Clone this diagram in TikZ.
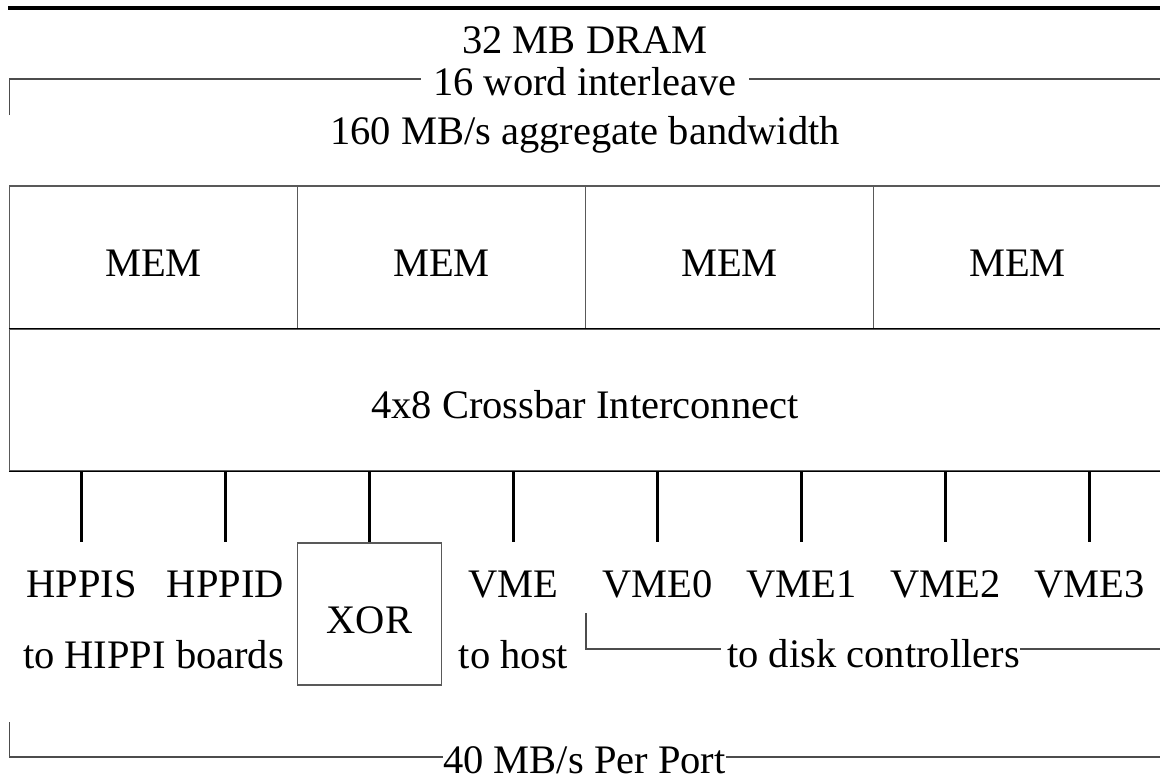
\documentclass[tikz,border=0pt]{standalone}
\usepackage{fontspec}
\setmainfont{Liberation Serif}
\usetikzlibrary{calc}
\begin{document}
\begin{tikzpicture}[x=1pt,y=-1pt,
  every node/.style={font=\fontsize{40.5}{48}\selectfont, inner sep=0pt},
  txt/.style={anchor=base},
  cell/.style={draw=black!65, line width=1.1pt, minimum width=288pt,
               minimum height=143pt, inner sep=0pt},
  heavy/.style={draw=black, line width=1.6pt},
  stub/.style={draw=black, line width=2.4pt},
  brk/.style={draw=black!70, line width=1.1pt},
  rule/.style={draw=black, line width=4pt}]
\useasboundingbox (0,0) rectangle (1160,777);

% heading rule
\coordinate (r0) at (8,7.5);
\coordinate (r1) at (1162,7.5);
\draw[rule] (r0) -- (r1);

% memory description with its bracket
\node[txt] (dram) at (585,53) {32 MB DRAM};
\node[txt, inner xsep=12pt] (ilv) at (585,95) {16 word interleave};
\node[txt] (bw) at (585,144) {160 MB/s aggregate bandwidth};
\coordinate (ttop) at (9.5,115);
\coordinate (tend) at (1162,79);
\draw[brk] (ttop) -- (ttop |- tend) -- (ilv.west |- tend);
\draw[brk] (ilv.east |- tend) -- (tend);

% memory banks
\foreach \i/\x in {1/153.5, 2/441.5, 3/729.5, 4/1017.5}{
  \node[cell] (mem\i) at (\x,257.5) {};
  \node[txt] (memt\i) at (\x,276) {MEM};
}

% crossbar
\node[cell, minimum width=1152pt, minimum height=142pt] (xbar) at (585.5,400) {};
\draw[heavy] (xbar.north west) -- (xbar.north east);
\draw[heavy] (xbar.south west) -- (xbar.south east);
\node[txt] (xbart) at (585,418) {4x8 Crossbar Interconnect};

% ports
\foreach \i/\x/\name in {1/81.5/HPPIS, 2/225.5/HPPID, 4/513.5/VME,
    5/657.5/VME0, 6/801.5/VME1, 7/945.5/VME2, 8/1089.5/VME3}{
  \coordinate (s\i) at (\x,542);
  \draw[stub] (xbar.south -| s\i) -- (s\i);
  \node[txt] (port\i) at (\x,597) {\name};
}

% parity engine
\node[cell, minimum width=144pt, minimum height=142pt] (xor) at (369.5,614) {};
\draw[stub] (xbar.south -| xor) -- (xor.north);
\node[txt] (xort) at (369.5,633) {XOR};

% port groups
\node[txt] (hippi) at (153.5,668) {to HIPPI boards};
\node[txt] (host) at (513.5,668) {to host};
\node[txt] (disk) at (873.5,667) {to disk controllers};
\coordinate (dtop) at (586,613);
\coordinate (dend) at (1162,649);
\draw[brk] (dtop) -- (dtop |- dend) -- ($(disk.west |- dend)+(-6,0)$);
\draw[brk] (disk.east |- dend) -- (dend);

% per-port bandwidth
\node[txt] (rate) at (584.5,773) {40 MB/s Per Port};
\coordinate (btop) at (9.5,722);
\coordinate (bend) at (1162,757);
\draw[brk] (btop) -- (btop |- bend) -- (rate.west |- bend);
\draw[brk] (rate.east |- bend) -- (bend);
\end{tikzpicture}
\end{document}
